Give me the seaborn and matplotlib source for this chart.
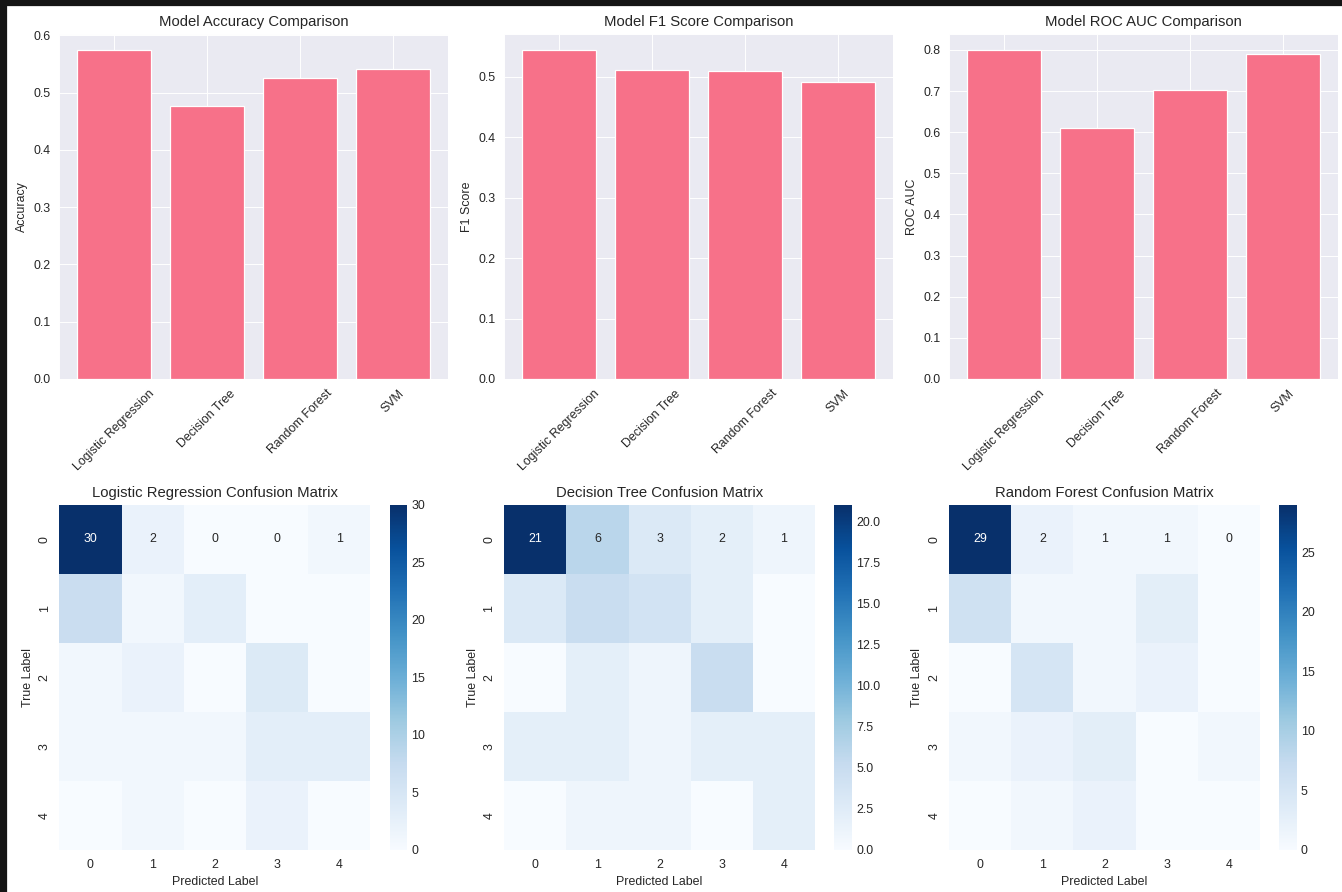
import numpy as np
import pandas as pd
import matplotlib
matplotlib.use("Agg")
import matplotlib.pyplot as plt
from matplotlib.patches import Rectangle
import seaborn as sns

# Model scores
models = ["Logistic Regression", "Decision Tree", "Random Forest", "SVM"]
accuracy = [0.574, 0.476, 0.525, 0.542]
f1_score = [0.544, 0.511, 0.509, 0.492]
roc_auc = [0.799, 0.611, 0.703, 0.790]

# Confusion matrices (first row annotated in the chart, the rest estimated from colour)
class_labels = [0, 1, 2, 3, 4]
cm_logreg = [[30, 2, 0, 0, 1],
             [7, 1, 3, 0, 0],
             [1, 2, 0, 4, 0],
             [1, 1, 1, 3, 3],
             [0, 1, 0, 2, 0]]
cm_tree = [[21, 6, 3, 2, 1],
           [3, 5, 4, 2, 0],
           [0, 2, 1, 5, 0],
           [2, 2, 1, 2, 2],
           [0, 1, 1, 0, 2]]
cm_forest = [[29, 2, 1, 1, 0],
             [6, 1, 1, 3, 0],
             [0, 5, 1, 2, 0],
             [1, 2, 3, 0, 1],
             [0, 1, 2, 0, 0]]

sns.set_style("darkgrid")
sns.set_palette("husl")
plt.rcParams['font.family'] = ['Liberation Sans', 'DejaVu Sans']

fig, axes = plt.subplots(2, 3, figsize=(15, 9.97), dpi=89.47)

# Bar charts
scores = pd.DataFrame({"Model": models, "Accuracy": accuracy,
                       "F1 Score": f1_score, "ROC AUC": roc_auc})
for ax, metric in zip(axes[0], ["Accuracy", "F1 Score", "ROC AUC"]):
    sns.barplot(data=scores, x="Model", y=metric, color="#f77189",
                saturation=1, width=0.8, ax=ax)
    ax.set_title(f"Model {metric} Comparison")
    ax.set_xlabel("")
    ax.set_ylabel(metric)
    ax.grid(True, axis="x")
    ax.set_xlim(-0.59, 3.59)
    ax.tick_params(axis="x", rotation=45)

# Confusion matrices
cms = [("Logistic Regression", cm_logreg), ("Decision Tree", cm_tree),
       ("Random Forest", cm_forest)]
for ax, (name, cm) in zip(axes[1], cms):
    cm = np.array(cm)
    # only the top row got its numbers drawn in the original
    labels = np.full(cm.shape, "", dtype=object)
    labels[0] = [str(v) for v in cm[0]]
    sns.heatmap(cm, annot=labels, fmt="", cmap="Blues", ax=ax,
                xticklabels=class_labels, yticklabels=class_labels)
    ax.collections[0].colorbar.ax.tick_params(length=0)
    ax.set_title(f"{name} Confusion Matrix")
    ax.set_xlabel("Predicted Label")
    ax.set_ylabel("True Label")

# dark screenshot frame on the top and left edges
fig.patches.append(Rectangle((0, 1 - 5 / 892), 1, 5 / 892, transform=fig.transFigure,
                             color="#151515", zorder=10))
fig.patches.append(Rectangle((0, 0), 6 / 1342, 1, transform=fig.transFigure,
                             color="#151515", zorder=10))

plt.tight_layout(rect=(3 / 1342, -9 / 892, 1 + 9 / 1342, 1 - 2 / 892))
plt.savefig("out.png", dpi=89.47)
